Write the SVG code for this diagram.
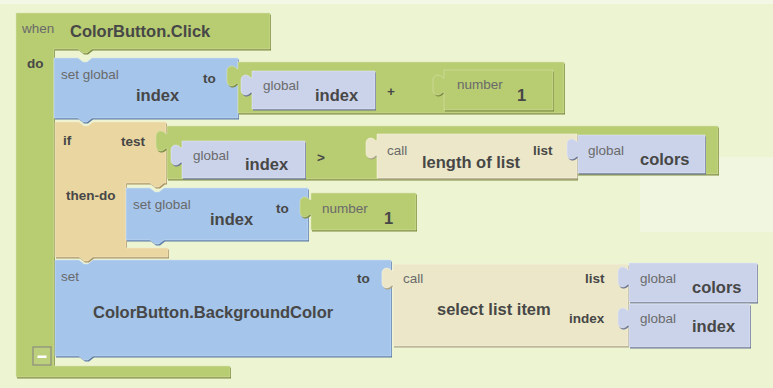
<svg xmlns="http://www.w3.org/2000/svg" xmlns:xlink="http://www.w3.org/1999/xlink" width="773" height="388" viewBox="0 0 773 388">
<style>
text{font-family:"Liberation Sans",Arial,sans-serif}
.s{font-size:13.5px;fill:#6a6a6a}
.sb{font-size:13.5px;font-weight:bold;fill:#474747}
.b{font-size:16.5px;font-weight:bold;fill:#474747}
.g{fill:#b8cc72}.gd{fill:#7c8c3e}
.bl{fill:#a5c5ea}.bld{fill:#5b7ca6}
.t{fill:#ead6a0}.td{fill:#a89462}
.c{fill:#ece7c8}.cd{fill:#a9a282}
.l{fill:#cbd3ea}.ld{fill:#6b7594}
.hl{fill:none;stroke-width:1;stroke-opacity:.55}
</style>
<defs>
<path id="pEvent" d="M16,13 H270 V49 H92 l-5,4 h-4 l-5,-4 H54 V366 H230 V377 H16 Z"/>
<path id="pSet1" d="M54,58 H78 l5,4 h4 l5,-4 H238 V118 H92 l-5,4 h-4 l-5,-4 H54 Z"/>
<path id="pPlus" d="M238,62 H564 V113 H238 V83 c-2,0 -3,3 -6,3 c-3,0 -5,-2 -5,-5 v-10 c0,-3 2,-5 5,-5 c3,0 4,3 6,3 Z"/>
<path id="pGi1" d="M252,71 H375 V109 H252 V92 c-2,0 -3,3 -6,3 c-3,0 -5,-2 -5,-5 v-10 c0,-3 2,-5 5,-5 c3,0 4,3 6,3 Z"/>
<path id="pNum1" d="M444,70 H553 V110 H444 V92 c-2,0 -3,3 -6,3 c-3,0 -5,-2 -5,-5 v-10 c0,-3 2,-5 5,-5 c3,0 4,3 6,3 Z"/>
<path id="pIf" d="M55,122 H79 l5,4 h4 l5,-4 H166 V183 H164 l-5,4 h-4 l-5,-4 H126 V248 H168 V257 H93 l-5,4 h-4 l-5,-4 H55 Z"/>
<path id="pCmp" d="M167,126 H718 V174 H577 V179 H167 V148 c-2,0 -3,3 -6,3 c-3,0 -5,-2 -5,-5 v-10 c0,-3 2,-5 5,-5 c3,0 4,3 6,3 Z"/>
<path id="pGi2" d="M182,141 H305 V178 H182 V162 c-2,0 -3,3 -6,3 c-3,0 -5,-2 -5,-5 v-10 c0,-3 2,-5 5,-5 c3,0 4,3 6,3 Z"/>
<path id="pLen" d="M377,134 H577 V178 H377 V155 c-2,0 -3,3 -6,3 c-3,0 -5,-2 -5,-5 v-10 c0,-3 2,-5 5,-5 c3,0 4,3 6,3 Z"/>
<path id="pGc1" d="M578,135 H705 V173 H578 V156 c-2,0 -3,3 -6,3 c-3,0 -5,-2 -5,-5 v-10 c0,-3 2,-5 5,-5 c3,0 4,3 6,3 Z"/>
<path id="pSet2" d="M126,188 H150 l5,4 h4 l5,-4 H308 V240 H164 l-5,4 h-4 l-5,-4 H126 Z"/>
<path id="pNum2" d="M311,193 H416 V230 H311 V214 c-2,0 -3,3 -6,3 c-3,0 -5,-2 -5,-5 v-10 c0,-3 2,-5 5,-5 c3,0 4,3 6,3 Z"/>
<path id="pSet3" d="M55,260 H79 l5,4 h4 l5,-4 H391 V356 H93 l-5,4 h-4 l-5,-4 H55 Z"/>
<path id="pSel" d="M393,264 H628 V346 H393 V285 c-2,0 -3,3 -6,3 c-3,0 -5,-2 -5,-5 v-10 c0,-3 2,-5 5,-5 c3,0 4,3 6,3 Z"/>
<path id="pGc2" d="M629,263 H757 V302 H629 V284 c-2,0 -3,3 -6,3 c-3,0 -5,-2 -5,-5 v-10 c0,-3 2,-5 5,-5 c3,0 4,3 6,3 Z"/>
<path id="pGi3" d="M629,304 H750 V347 H629 V325 c-2,0 -3,3 -6,3 c-3,0 -5,-2 -5,-5 v-10 c0,-3 2,-5 5,-5 c3,0 4,3 6,3 Z"/>
</defs>

<rect width="773" height="388" fill="#ecf4d2"/>
<rect width="773" height="4" fill="#f3f8e6"/>
<rect x="640" y="157" width="133" height="75" fill="#f1f6e1"/>

<g id="event-click">
<use xlink:href="#pEvent" class="gd" transform="translate(1,1.5)"/>
<use xlink:href="#pEvent" class="g"/>
<use xlink:href="#pEvent" class="hl" stroke="#dbe6b0"/>
<text x="22" y="33" class="s">when</text>
<text x="70" y="37" class="b">ColorButton.Click</text>
<text x="27" y="68" class="sb">do</text>
<rect x="33" y="347" width="18" height="18" fill="#bccf7c" stroke="#8c8c80" stroke-width="1.2"/>
<rect x="37.5" y="355.5" width="9" height="2.5" fill="#ffffff"/>
</g>

<g id="set-global-index-1">
<use xlink:href="#pSet1" class="bld" transform="translate(1,1.5)"/>
<use xlink:href="#pSet1" class="bl"/>
<use xlink:href="#pSet1" class="hl" stroke="#d3e3f7"/>
<text x="61" y="79" class="s">set global</text>
<text x="136" y="101" class="b">index</text>
<text x="203" y="83" class="sb">to</text>
</g>

<g id="plus-block">
<use xlink:href="#pPlus" class="gd" transform="translate(1,1.5)"/>
<use xlink:href="#pPlus" class="g"/>
<use xlink:href="#pPlus" class="hl" stroke="#dbe6b0"/>
<text x="387" y="96" class="sb">+</text>
</g>

<g id="get-global-index-1">
<use xlink:href="#pGi1" class="ld" transform="translate(1,1.5)"/>
<use xlink:href="#pGi1" class="l"/>
<use xlink:href="#pGi1" class="hl" stroke="#e6eaf6"/>
<text x="263" y="90" class="s">global</text>
<text x="315" y="101" class="b">index</text>
</g>

<g id="number-1a">
<use xlink:href="#pNum1" class="gd" transform="translate(1,1.5)"/>
<use xlink:href="#pNum1" class="g"/>
<use xlink:href="#pNum1" class="hl" stroke="#dbe6b0"/>
<text x="457" y="89" class="s">number</text>
<text x="517" y="101" class="b">1</text>
</g>

<g id="if-block">
<use xlink:href="#pIf" class="td" transform="translate(1,1.5)"/>
<use xlink:href="#pIf" class="t"/>
<use xlink:href="#pIf" class="hl" stroke="#f6ead0"/>
<text x="63" y="145" class="sb">if</text>
<text x="121" y="146" class="sb">test</text>
<text x="66" y="200" class="sb">then-do</text>
</g>

<g id="compare-block">
<use xlink:href="#pCmp" class="gd" transform="translate(1,1.5)"/>
<use xlink:href="#pCmp" class="g"/>
<use xlink:href="#pCmp" class="hl" stroke="#dbe6b0"/>
<text x="317" y="162" class="sb">&gt;</text>
</g>

<g id="get-global-index-2">
<use xlink:href="#pGi2" class="ld" transform="translate(1,1.5)"/>
<use xlink:href="#pGi2" class="l"/>
<use xlink:href="#pGi2" class="hl" stroke="#e6eaf6"/>
<text x="193" y="160" class="s">global</text>
<text x="245" y="170" class="b">index</text>
</g>

<g id="length-of-list">
<use xlink:href="#pLen" class="cd" transform="translate(1,1.5)"/>
<use xlink:href="#pLen" class="c"/>
<use xlink:href="#pLen" class="hl" stroke="#f8f5e6"/>
<text x="387" y="155" class="s">call</text>
<text x="422" y="168" class="b">length of list</text>
<text x="533" y="155" class="sb">list</text>
</g>

<g id="get-global-colors-1">
<use xlink:href="#pGc1" class="ld" transform="translate(1,1.5)"/>
<use xlink:href="#pGc1" class="l"/>
<use xlink:href="#pGc1" class="hl" stroke="#e6eaf6"/>
<text x="588" y="155" class="s">global</text>
<text x="640" y="165" class="b">colors</text>
</g>

<g id="set-global-index-2">
<use xlink:href="#pSet2" class="bld" transform="translate(1,1.5)"/>
<use xlink:href="#pSet2" class="bl"/>
<use xlink:href="#pSet2" class="hl" stroke="#d3e3f7"/>
<text x="133" y="209" class="s">set global</text>
<text x="210" y="225" class="b">index</text>
<text x="276" y="213" class="sb">to</text>
</g>

<g id="number-1b">
<use xlink:href="#pNum2" class="gd" transform="translate(1,1.5)"/>
<use xlink:href="#pNum2" class="g"/>
<use xlink:href="#pNum2" class="hl" stroke="#dbe6b0"/>
<text x="322" y="213" class="s">number</text>
<text x="384" y="224" class="b">1</text>
</g>

<g id="set-background-color">
<use xlink:href="#pSet3" class="bld" transform="translate(1,1.5)"/>
<use xlink:href="#pSet3" class="bl"/>
<use xlink:href="#pSet3" class="hl" stroke="#d3e3f7"/>
<text x="61" y="281" class="s">set</text>
<text x="93" y="318" class="b">ColorButton.BackgroundColor</text>
<text x="357" y="283" class="sb">to</text>
</g>

<g id="select-list-item">
<use xlink:href="#pSel" class="cd" transform="translate(1,1.5)"/>
<use xlink:href="#pSel" class="c"/>
<use xlink:href="#pSel" class="hl" stroke="#f8f5e6"/>
<text x="403" y="283" class="s">call</text>
<text x="437" y="315" class="b">select list item</text>
<text x="585" y="283" class="sb">list</text>
<text x="569" y="323" class="sb">index</text>
</g>

<g id="get-global-colors-2">
<use xlink:href="#pGc2" class="ld" transform="translate(1,1.5)"/>
<use xlink:href="#pGc2" class="l"/>
<use xlink:href="#pGc2" class="hl" stroke="#e6eaf6"/>
<text x="640" y="283" class="s">global</text>
<text x="692" y="293" class="b">colors</text>
</g>

<g id="get-global-index-3">
<use xlink:href="#pGi3" class="ld" transform="translate(1,1.5)"/>
<use xlink:href="#pGi3" class="l"/>
<use xlink:href="#pGi3" class="hl" stroke="#e6eaf6"/>
<text x="640" y="323" class="s">global</text>
<text x="692" y="332" class="b">index</text>
</g>

<g id="connectors"></g>
</svg>
